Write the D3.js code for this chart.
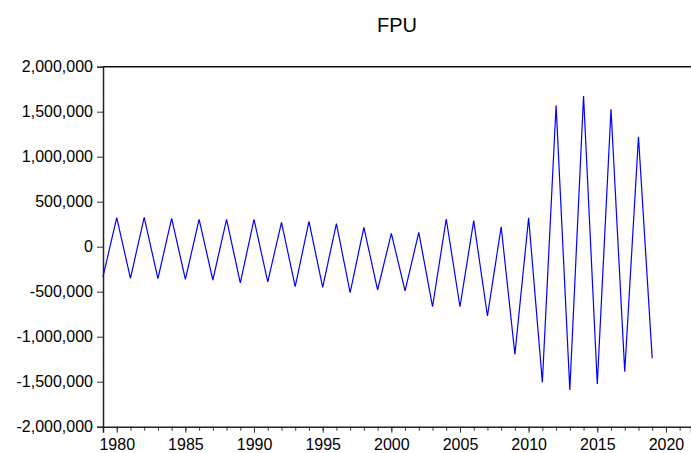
<!DOCTYPE html>
<html>
<head>
<meta charset="utf-8">
<script src="https://cdn.jsdelivr.net/npm/d3@7"></script>
<style>
  body { margin: 0; background: #fff; }
  text { font-family: "Liberation Sans", Arial, sans-serif; }
</style>
</head>
<body>
<div id="chart-area"></div>
<script>
// FPU annual series, 1979-2019
const years = d3.range(1979, 2020);
const fpuValues = [
    -333000, 322000, -351000, 327000, -355000, 315000, -363000, 304000,
    -370000, 304000, -403000, 304000, -392000, 271000, -444000, 282000,
    -451000, 256000, -511000, 215000, -481000, 149000, -492000, 160000,
    -667000, 308000, -667000, 289000, -770000, 222000, -1196000, 322000,
    -1507000, 1571000, -1592000, 1674000, -1526000, 1527000, -1389000,
    1222000, -1240000
];
const yTicks = [-2000000, -1500000, -1000000, -500000, 0, 500000, 1000000, 1500000, 2000000];
const xMajorTicks = [1980, 1985, 1990, 1995, 2000, 2005, 2010, 2015, 2020];
const xMinorTicks = d3.range(1979, 2022);
const title = "FPU";

const width = 691, height = 453;
const margin = {top: 66.7, right: 0, bottom: 26.3, left: 103};
const plotW = width - margin.left - margin.right;
const plotH = height - margin.top - margin.bottom;

// plain hyphen for negatives, like the original
const fmt = d3.formatLocale({decimal: ".", thousands: ",", grouping: [3], currency: ["", ""], minus: "-"}).format(",");

const svg = d3.select("#chart-area").append("svg")
    .attr("width", width)
    .attr("height", height);

const x = d3.scaleLinear()
    .domain([1979, 1979 + plotW / 13.73])
    .range([0, plotW]);

const y = d3.scaleLinear()
    .domain([-2000000, 2000000])
    .range([plotH, 0]);

const g = svg.append("g")
    .attr("transform", `translate(${margin.left},${margin.top})`);

// top frame line
g.append("line")
    .attr("x1", 0).attr("x2", plotW)
    .attr("y1", 0).attr("y2", 0)
    .attr("stroke", "#111")
    .attr("stroke-width", 1.5);

const yAxis = g.append("g")
    .call(d3.axisLeft(y).tickValues(yTicks).tickSize(6).tickPadding(4).tickFormat(fmt));

const xMinor = g.append("g")
    .attr("transform", `translate(0,${plotH})`)
    .call(d3.axisBottom(x).tickValues(xMinorTicks).tickSize(4).tickFormat(""));

const xAxis = g.append("g")
    .attr("transform", `translate(0,${plotH})`)
    .call(d3.axisBottom(x).tickValues(xMajorTicks).tickSize(6).tickPadding(6).tickFormat(d3.format("d")));

[yAxis, xMinor, xAxis].forEach(a => {
    a.select(".domain").attr("stroke", "#222").attr("stroke-width", 1.5);
    a.selectAll(".tick line").attr("stroke", "#333");
    a.selectAll(".tick text")
        .attr("fill", "#000")
        .style("font-size", "16px")
        .style("font-family", "'Liberation Sans', Arial, sans-serif");
});
xMinor.select(".domain").remove();

const line = d3.line()
    .x((d, i) => x(years[i]))
    .y(d => y(d));

g.append("path")
    .datum(fpuValues)
    .attr("fill", "none")
    .attr("stroke", "#0000ff")
    .attr("stroke-width", 1.2)
    .attr("d", line);

svg.append("text")
    .attr("x", margin.left + plotW / 2)
    .attr("y", 32.3)
    .attr("text-anchor", "middle")
    .style("font-size", "20px")
    .text(title);
</script>
</body>
</html>
